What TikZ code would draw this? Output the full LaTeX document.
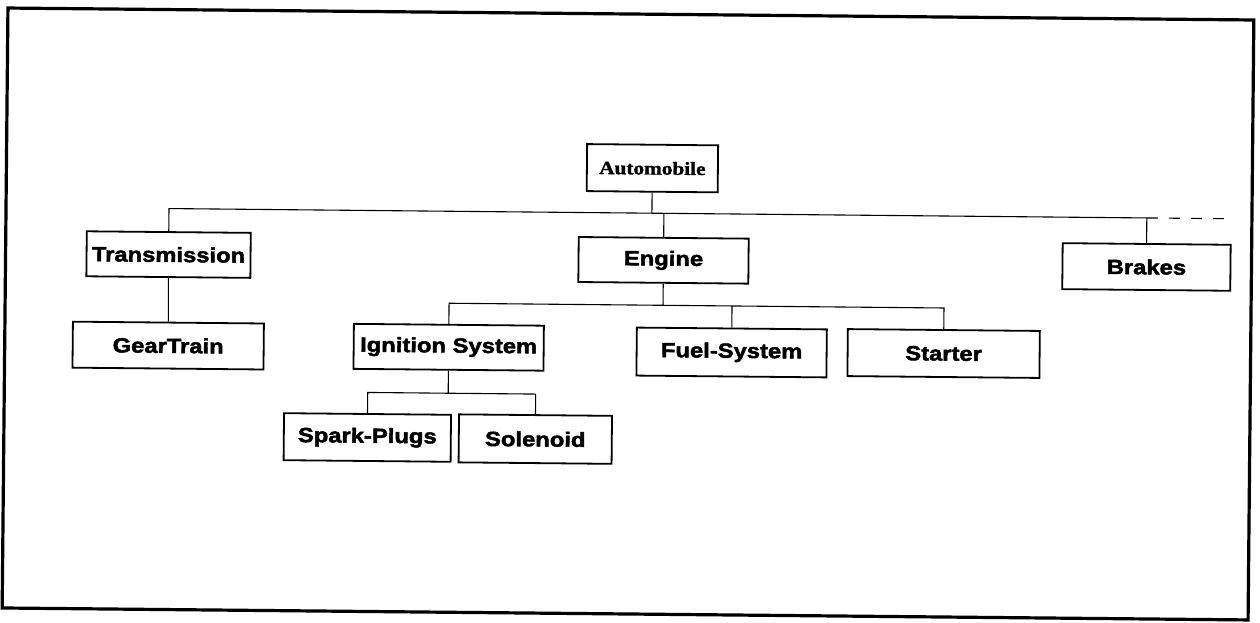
\documentclass[tikz,border=0pt]{standalone}
\usepackage{fontspec}
\usetikzlibrary{calc}
% heavy sans for the part names, wide bold serif for the root
\newfontfamily\lblfont{Liberation Sans}[BoldFeatures={FakeStretch=1.16,FakeBold=2.2}]
\newfontfamily\autofont{Liberation Serif}[BoldFeatures={FakeStretch=1.15,FakeBold=1.5}]
\begin{document}
\begin{tikzpicture}[x=1pt,y=-1pt,
  part/.style={draw,line width=1.8pt,inner sep=0pt,align=center,
    font=\lblfont\bfseries\fontsize{20.5}{24}\selectfont},
  link/.style={line width=1.1pt}]
\useasboundingbox (0,0) rectangle (1260,622);
\begin{scope}[rotate around={-0.55:(630,314)}, transform shape]
  % outer frame
  \draw[line width=3.2pt] (5,14) rectangle (1251,614);

  % parts
  \node[part, minimum width=131pt, minimum height=47pt,
        font=\autofont\bfseries\fontsize{18.5}{22}\selectfont] (auto) at (651,168) {Automobile};
  \node[part, minimum width=164pt, minimum height=45pt] (trans)   at (168,259)   {Transmission};
  \node[part, minimum width=191pt, minimum height=46pt] (gear)    at (168.5,350) {GearTrain};
  \node[part, minimum width=170pt, minimum height=45pt] (engine)  at (663,260)   {Engine};
  \node[part, minimum width=168pt, minimum height=46pt] (brakes)  at (1146,262)  {Brakes};
  \node[part, minimum width=190pt, minimum height=45pt] (ign)     at (449,349)   {Ignition System};
  \node[part, minimum width=190pt, minimum height=48pt] (fuel)    at (732,351.5) {Fuel-System};
  \node[part, minimum width=192pt, minimum height=47pt] (starter) at (944,350.5) {Starter};
  \node[part, minimum width=167pt, minimum height=47pt] (spark)   at (368.5,440) {Spark-Plugs};
  \node[part, minimum width=153pt, minimum height=48pt] (sol)     at (536.5,440) {Solenoid};

  % bus lines of each level
  \coordinate (busL) at (0,213);   \coordinate (busR) at (1260,213);
  \coordinate (ebusL) at (0,305);  \coordinate (ebusR) at (1260,305);
  \coordinate (ibusL) at (0,395);  \coordinate (ibusR) at (1260,395);
  \coordinate (more) at (1231,213);

  % Automobile level
  \draw[link] (trans.north) -- ($(busL)!(trans.north)!(busR)$)
              -- ($(busL)!(brakes.north)!(busR)$) -- (brakes.north);
  \draw[link] (auto.south) -- ($(busL)!(auto.south)!(busR)$);
  \draw[link] (engine.north) -- ($(busL)!(engine.north)!(busR)$);
  \draw[link, dash pattern=on 11pt off 11pt] ($(busL)!(brakes.north)!(busR)$) -- (more);

  % Transmission level
  \draw[link] (trans.south) -- (gear.north);

  % Engine level
  \draw[link] (ign.north) -- ($(ebusL)!(ign.north)!(ebusR)$)
              -- ($(ebusL)!(starter.north)!(ebusR)$) -- (starter.north);
  \draw[link] (engine.south) -- ($(ebusL)!(engine.south)!(ebusR)$);
  \draw[link] (fuel.north) -- ($(ebusL)!(fuel.north)!(ebusR)$);

  % Ignition level
  \draw[link] (spark.north) -- ($(ibusL)!(spark.north)!(ibusR)$)
              -- ($(ibusL)!(sol.north)!(ibusR)$) -- (sol.north);
  \draw[link] (ign.south) -- ($(ibusL)!(ign.south)!(ibusR)$);
\end{scope}
\end{tikzpicture}
\end{document}
